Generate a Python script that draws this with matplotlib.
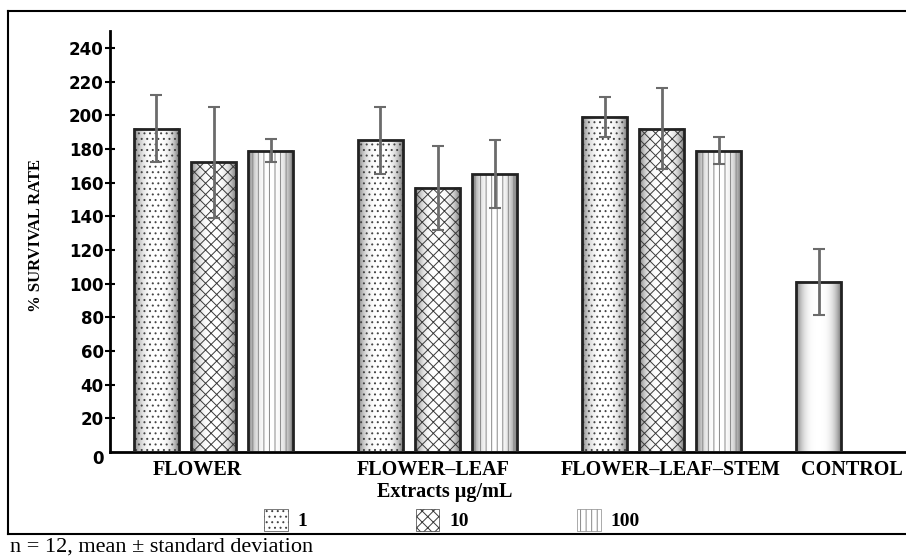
import numpy as np
import matplotlib.pyplot as plt
from matplotlib.lines import Line2D
from matplotlib import transforms

plt.rcParams['hatch.linewidth'] = 0.7

groups = ["FLOWER", "FLOWER\u2013LEAF", "FLOWER\u2013LEAF\u2013STEM", "CONTROL"]
doses = ["1", "10", "100"]
# mean survival rate (%) per extract and dose
mean_1 = [192, 185, 199]
mean_10 = [172, 157, 192]
mean_100 = [179, 165, 179]
sd_1 = [20, 20, 12]
sd_10 = [33, 25, 24]
sd_100 = [7, 20, 8]
control_mean = [101]
control_sd = [19.5]

W, H = 906, 557
fig = plt.figure(figsize=(W / 100, H / 100), dpi=100)
ax = fig.add_axes([110 / W, (H - 452) / H, (W - 110) / W, (452 - 31) / H])

serif = "Liberation Serif"
x = np.arange(3)
x_ctrl = np.array([2.7])
off = 0.255
bw = 0.2
hatches = ["...", "xxx", "|||"]
hcolors = ["#444444", "#3a3a3a", "#888888"]
means = [mean_1, mean_10, mean_100]
sds = [sd_1, sd_10, sd_100]

grad_t = np.linspace(-1, 1, 60)
grad = (1 - 0.5 * np.abs(grad_t) ** 3)[None, :]


def shade(bars):
    for r in bars:
        ax.imshow(grad, extent=[r.get_x(), r.get_x() + r.get_width(), 0, r.get_height()],
                  cmap="gray", vmin=0, vmax=1, aspect="auto", zorder=1,
                  interpolation="bicubic")


handles = []
for i in range(3):
    pos = x + (i - 1) * off
    b = ax.bar(pos, means[i], bw, facecolor="none", edgecolor=hcolors[i],
               hatch=hatches[i], linewidth=0.5, zorder=2)
    shade(b)
    ax.bar(pos, means[i], bw, facecolor="none", edgecolor="#222222",
           linewidth=2, zorder=3)
    ax.errorbar(pos, means[i], yerr=sds[i], fmt="none", ecolor="#6b6b6b",
                elinewidth=2, capsize=4, capthick=1.5, zorder=4)
    handles.append(b)

bc = ax.bar(x_ctrl, control_mean, bw, facecolor="none", edgecolor="#222222",
            linewidth=2, zorder=3)
shade(bc)
ax.errorbar(x_ctrl, control_mean, yerr=control_sd, fmt="none", ecolor="#6b6b6b",
            elinewidth=2, capsize=4, capthick=1.5, zorder=4)

ax.set_xlim(-0.462, 3.09)
ax.set_ylim(0, 250)
ax.set_yticks(range(0, 241, 20))
for s in ["top", "right"]:
    ax.spines[s].set_visible(False)
for s in ["left", "bottom"]:
    ax.spines[s].set_linewidth(2)
ax.tick_params(axis="y", direction="inout", length=7, width=1.5, pad=1,
               labelsize=12)
for lab in ax.get_yticklabels():
    lab.set_fontweight("bold")
ax.yaxis.get_major_ticks()[0].tick1line.set_visible(False)
zero_lab = ax.get_yticklabels()[0]
zero_lab.set_transform(zero_lab.get_transform() +
                       transforms.ScaledTranslation(0, -5 / 100, fig.dpi_scale_trans))

ax.set_xticks([-0.074, 0.98, 2.04, 2.85])
ax.set_xticklabels(groups, fontfamily=serif, fontweight="bold", fontsize=14.5)
ax.tick_params(axis="x", length=0, pad=6)

ax.set_ylabel("% SURVIVAL RATE", fontfamily=serif, fontweight="bold", fontsize=12)
ax.yaxis.set_label_coords(44 / W, (H - 236) / H, transform=fig.transFigure)

fig.text(445 / W, (H - 492) / H, "Extracts \u00b5g/mL", ha="center", va="center",
         fontfamily=serif, fontweight="bold", fontsize=14.5)

fig.legend(handles, doses, loc="center", bbox_to_anchor=(452 / W, (H - 520) / H),
           ncol=3, frameon=False, handlelength=1.2, handleheight=1.4,
           columnspacing=5.6, handletextpad=0.5,
           prop={"family": serif, "weight": "bold", "size": 14})

# outer frame
for xs, ys in [([8, 8], [11, 534]), ([8, W], [11, 11]), ([8, W], [534, 534])]:
    fig.add_artist(Line2D([v / W for v in xs], [(H - v) / H for v in ys],
                          transform=fig.transFigure, color="black", linewidth=1.5))

fig.text(10 / W, 5 / H, "n = 12, mean \u00b1 standard deviation", ha="left",
         va="baseline", fontfamily=serif, fontsize=16)

fig.savefig("out.png", dpi=100)
